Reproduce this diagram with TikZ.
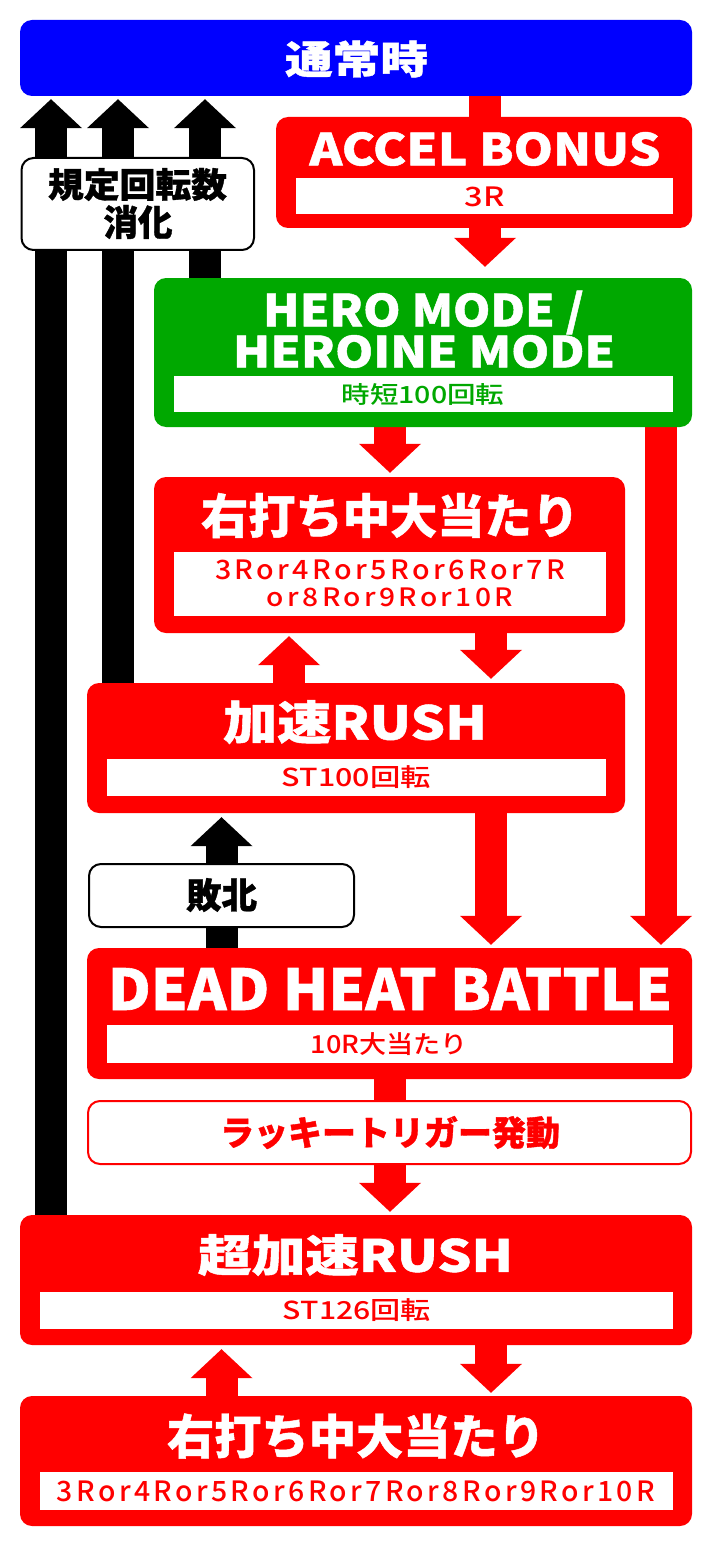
\documentclass[tikz,border=0pt]{standalone}
\usepackage{fontspec}
\usepackage{graphicx}
\usetikzlibrary{arrows.meta}
\XeTeXuseglyphmetrics=1
\IfFontExistsTF{Noto Sans CJK JP Black}{\newfontfamily\hvf{Noto Sans CJK JP Black}[FakeBold=1]}{\IfFontExistsTF{Noto Sans CJK JP Bold}{\newfontfamily\hvf{Noto Sans CJK JP Bold}[FakeBold=1.5]}{\newfontfamily\hvf{Noto Sans CJK JP}[FakeBold=3]}}
\IfFontExistsTF{Noto Sans CJK JP Medium}{\newfontfamily\sbf{Noto Sans CJK JP Medium}}{\newfontfamily\sbf{Noto Sans CJK JP}[FakeBold=0.6]}
\definecolor{rd}{RGB}{255,0,0}
\definecolor{bl}{RGB}{0,0,255}
\definecolor{gr}{RGB}{0,168,0}
\newcommand\fitto[3]{\resizebox*{#1}{#2}{#3}}
\pgfdeclarelayer{bg}
\pgfsetlayers{bg,main}
\begin{document}
\begin{tikzpicture}[x=1pt,y=-1pt,
  box/.style={rectangle,rounded corners=12pt,inner sep=0pt,fill=rd,draw=none},
  inbox/.style={rectangle,inner sep=0pt,fill=white,draw=none},
  lbl/.style={rectangle,rounded corners=12pt,inner sep=0pt,fill=white,draw=black,line width=2pt},
  txt/.style={inner sep=0pt,anchor=center},
  rarr/.style={draw=rd,line width=32pt,-{Triangle[width=62pt,length=29pt,line width=0pt]}},
  barr/.style={draw=black,line width=32pt,-{Triangle[width=62pt,length=29pt,line width=0pt]}},
  rbar/.style={draw=rd,line width=32pt}]
\useasboundingbox (0,0) rectangle (712,1546);
% column coordinates
\coordinate (c1) at (51,0);
\coordinate (c2) at (118,0);
\coordinate (c3) at (205,0);
\coordinate (cA) at (485,0);
\coordinate (cB) at (390,0);
\coordinate (cC) at (661,0);
\coordinate (cD) at (491,0);
\coordinate (cE) at (289,0);
\coordinate (cF) at (221.5,0);

% boxes
\node[box,fill=bl,minimum width=672pt,minimum height=76pt] (tsujo) at (356,58) {};
\node[txt,text=white] (tsujoT) at (356.5,59) {\fitto{143pt}{37pt}{\hvf 通常時}};

\node[box,minimum width=416pt,minimum height=111pt] (accel) at (484,172.5) {};
\node[txt,text=white] (accelT) at (485,149) {\fitto{351pt}{34pt}{\hvf ACCEL BONUS}};
\node[inbox,minimum width=377pt,minimum height=36pt] (accelI) at (484.5,196) {};
\node[txt,text=rd] (accelS) at (484.5,197) {\fitto{40pt}{20pt}{\sbf 3R}};

\node[box,fill=gr,minimum width=538pt,minimum height=149pt] (hero) at (423,352.5) {};
\node[txt,text=white] (heroT1) at (423.5,310) {\fitto{321pt}{34pt}{\hvf HERO MODE \smash{/}}};
\node[txt,text=white] (heroT2) at (424,351.5) {\fitto{382pt}{33pt}{\hvf HEROINE MODE}};
\node[inbox,minimum width=499pt,minimum height=36pt] (heroI) at (423.5,394) {};
\node[txt,text=gr] (heroS) at (423,394) {\fitto{163pt}{22pt}{\sbf 時短100回転}};

\node[box,minimum width=471pt,minimum height=156pt] (migiA) at (389.5,555) {};
\node[txt,text=white] (migiAT) at (390,515.5) {\fitto{378pt}{45pt}{\hvf 右打ち中大当たり}};
\node[inbox,minimum width=432pt,minimum height=64pt] (migiAI) at (390,584) {};
\node[txt,text=rd] (migiAS1) at (390,570) {\fitto{350pt}{20pt}{\sbf\addfontfeatures{LetterSpace=12}3Ror4Ror5Ror6Ror7R}};
\node[txt,text=rd] (migiAS2) at (390,597.5) {\fitto{246pt}{19pt}{\sbf\addfontfeatures{LetterSpace=12}or8Ror9Ror10R}};

\node[box,minimum width=538pt,minimum height=130pt] (kasoku) at (356,748) {};
\node[txt,text=white] (kasokuT) at (355,722) {\fitto{264pt}{44pt}{\hvf 加速RUSH}};
\node[inbox,minimum width=499pt,minimum height=37pt] (kasokuI) at (356.5,777.5) {};
\node[txt,text=rd] (kasokuS) at (356.5,777.5) {\fitto{149pt}{23pt}{\sbf ST100回転}};

\node[box,minimum width=605pt,minimum height=131pt] (dead) at (389.5,1013.5) {};
\node[txt,text=white] (deadT) at (390,989) {\fitto{564pt}{42pt}{\hvf DEAD HEAT BATTLE}};
\node[inbox,minimum width=566pt,minimum height=37.5pt] (deadI) at (390,1043.75) {};
\node[txt,text=rd] (deadS) at (389.5,1044) {\fitto{157pt}{23pt}{\sbf 10R大当たり}};

\node[lbl,draw=rd,minimum width=603pt,minimum height=63pt] (lucky) at (389.5,1132.5) {};
\node[txt,text=rd] (luckyT) at (390,1132.5) {\fitto{340pt}{33pt}{\hvf ラッキートリガー発動}};

\node[box,minimum width=672pt,minimum height=130pt] (chou) at (356,1280) {};
\node[txt,text=white] (chouT) at (355.5,1255) {\fitto{315pt}{42pt}{\hvf 超加速RUSH}};
\node[inbox,minimum width=633pt,minimum height=37pt] (chouI) at (356.5,1310.5) {};
\node[txt,text=rd] (chouS) at (357,1310.5) {\fitto{148pt}{23pt}{\sbf ST126回転}};

\node[box,minimum width=672pt,minimum height=130pt] (migiB) at (356,1461) {};
\node[txt,text=white] (migiBT) at (356,1436) {\fitto{378pt}{45pt}{\hvf 右打ち中大当たり}};
\node[inbox,minimum width=633pt,minimum height=38pt] (migiBI) at (356.5,1491) {};
\node[txt,text=rd] (migiBS) at (356,1491.5) {\fitto{598pt}{21pt}{\sbf\addfontfeatures{LetterSpace=12}3Ror4Ror5Ror6Ror7Ror8Ror9Ror10R}};

% labels
\node[lbl,minimum width=232.5pt,minimum height=92pt] (kitei) at (137.75,204) {};
\node[txt] (kiteiT1) at (137.5,184.5) {\fitto{179pt}{33pt}{\hvf 規定回転数}};
\node[txt] (kiteiT2) at (138,222) {\fitto{69pt}{34pt}{\hvf 消化}};

\node[lbl,minimum width=265pt,minimum height=63pt] (haiboku) at (221.5,895.5) {};
\node[txt] (haibokuT) at (221.5,895) {\fitto{71pt}{34pt}{\hvf 敗北}};

% connectors
\begin{pgfonlayer}{bg}
\draw[barr,shorten >=3pt] (chou.north -| c1) -- (tsujo.south -| c1);
\draw[barr,shorten >=3pt] (kasoku.north -| c2) -- (tsujo.south -| c2);
\draw[barr,shorten >=3pt] (hero.north -| c3) -- (tsujo.south -| c3);
\draw[rbar] (tsujo.south -| cA) -- (accel.north -| cA);
\draw[rarr,shorten >=11pt] (accel.south -| cA) -- (hero.north -| cA);
\draw[rarr,shorten >=4pt] (hero.south -| cB) -- (migiA.north -| cB);
\draw[rarr,shorten >=3pt] (hero.south -| cC) -- (dead.north -| cC);
\draw[rarr,shorten >=4pt] (migiA.south -| cD) -- (kasoku.north -| cD);
\draw[rarr,shorten >=3pt] (kasoku.north -| cE) -- (migiA.south -| cE);
\draw[rarr,shorten >=3pt] (kasoku.south -| cD) -- (dead.north -| cD);
\draw[barr,shorten >=4pt] (dead.north -| cF) -- (kasoku.south -| cF);
\draw[rbar] (dead.south -| cB) -- (lucky.north -| cB);
\draw[rarr,shorten >=3pt] (lucky.south -| cB) -- (chou.north -| cB);
\draw[rarr,shorten >=3pt] (chou.south -| cD) -- (migiB.north -| cD);
\draw[rarr,shorten >=4pt] (migiB.north -| cF) -- (chou.south -| cF);
\end{pgfonlayer}
\end{tikzpicture}
\end{document}
